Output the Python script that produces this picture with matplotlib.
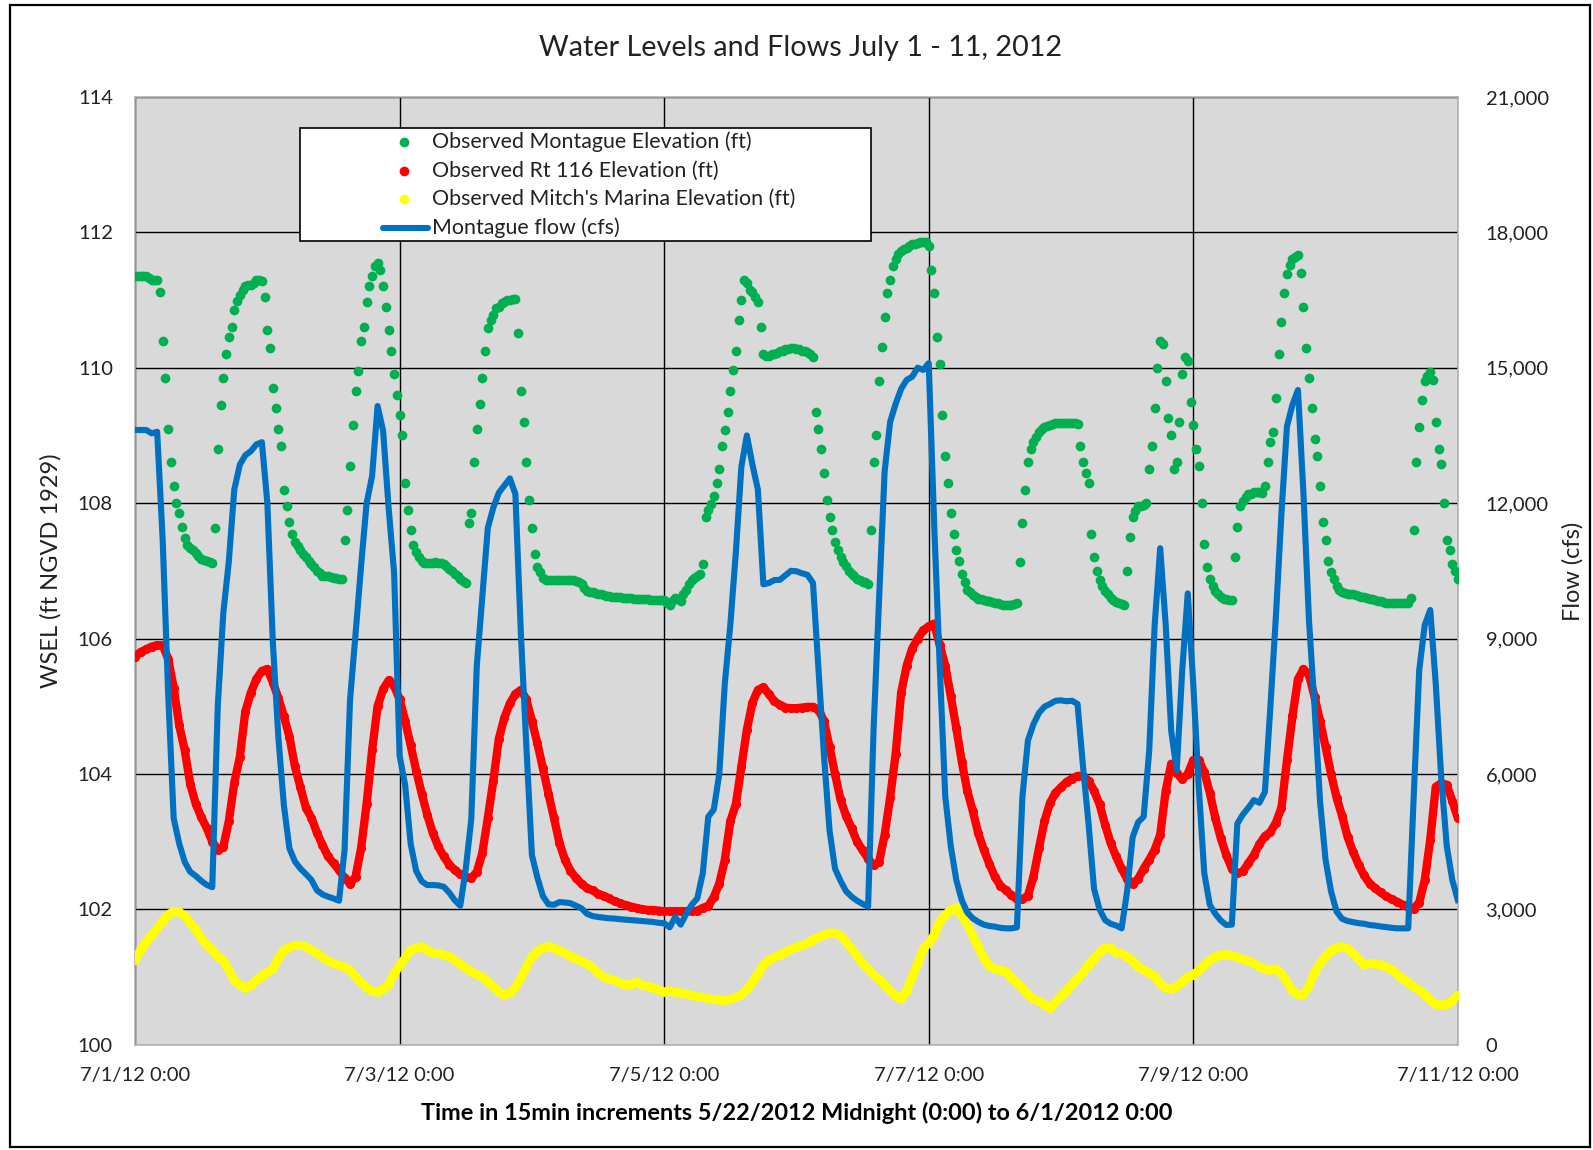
import matplotlib
matplotlib.use("Agg")
import matplotlib.pyplot as plt
from matplotlib.ticker import FuncFormatter, FixedLocator
from matplotlib.patches import Rectangle
from matplotlib.lines import Line2D
import numpy as np

plt.rcParams['font.family'] = ['Lato', 'DejaVu Sans']

# ---------------- data (readings from 7/1/12 0:00 .. 7/11/12 0:00) ----------------
hours = np.arange(241)          # on-the-hour readings
half_hours = np.arange(240) + 0.5  # half-past readings (Montague only)

# Montague elevation on the hour
montague_elev = [
    111.35, 111.35, 111.35, 111.3, 111.3, 110.4, 109.1, 108.25, 107.85, 107.48, 107.33, 107.26,
    107.18, 107.15, 107.11, 108.8, 109.85, 110.45, 110.85, 111.08, 111.2, 111.22, 111.3, 111.28,
    110.55, 109.7, 109.1, 108.2, 107.72, 107.43, 107.3, 107.2, 107.1, 107.0, 106.93, 106.92,
    106.9, 106.88, 107.45, 108.55, 109.65, 110.4, 110.97, 111.35, 111.55, 111.2, 110.55, 109.9,
    109.3, 108.3, 107.6, 107.28, 107.15, 107.12, 107.12, 107.12, 107.1, 107.03, 106.96, 106.88,
    106.82, 107.85, 109.1, 109.85, 110.58, 110.78, 110.9, 110.97, 111.0, 111.02, 109.65, 108.6,
    107.63, 107.05, 106.9, 106.86, 106.87, 106.87, 106.87, 106.86, 106.85, 106.8, 106.7, 106.68,
    106.66, 106.64, 106.63, 106.62, 106.61, 106.6, 106.6, 106.59, 106.58, 106.58, 106.57, 106.57,
    106.57, 106.49, 106.6, 106.55, 106.72, 106.86, 106.93, 107.1, 107.9, 108.1, 108.5, 109.08,
    109.65, 110.25, 111.0, 111.25, 111.12, 110.97, 110.2, 110.18, 110.2, 110.24, 110.27, 110.29,
    110.28, 110.25, 110.23, 110.16, 109.1, 108.45, 107.8, 107.43, 107.2, 107.07, 106.95, 106.88,
    106.84, 106.81, 108.6, 109.8, 110.75, 111.3, 111.6, 111.72, 111.77, 111.82, 111.84, 111.86,
    111.8, 111.1, 110.05, 108.7, 107.85, 107.3, 106.95, 106.72, 106.64, 106.59, 106.57, 106.55,
    106.53, 106.51, 106.5, 106.5, 106.52, 107.7, 108.6, 108.9, 109.05, 109.12, 109.16, 109.18,
    109.19, 109.19, 109.18, 109.17, 108.6, 108.3, 107.2, 106.87, 106.7, 106.6, 106.54, 106.51,
    107.0, 107.8, 107.95, 107.97, 108.5, 109.4, 110.4, 109.8, 109.0, 108.6, 109.9, 110.1,
    109.15, 108.55, 107.4, 106.88, 106.7, 106.61, 106.58, 106.57, 107.65, 108.03, 108.13, 108.16,
    108.16, 108.25, 108.9, 109.55, 110.68, 111.38, 111.6, 111.66, 110.9, 109.85, 108.95, 108.25,
    107.45, 106.98, 106.77, 106.68, 106.66, 106.65, 106.63, 106.61, 106.59, 106.57, 106.55, 106.53,
    106.52, 106.52, 106.52, 106.53, 107.6, 109.13, 109.8, 109.94, 109.2, 108.58, 107.45, 107.1,
    106.88,
]

# Montague elevation at half past each hour
montague_elev_half = [
    111.35, 111.35, 111.33, 111.3, 111.12, 109.85, 108.61, 108.0, 107.65, 107.38, 107.3, 107.22,
    107.16, 107.13, 107.63, 109.45, 110.2, 110.6, 110.98, 111.15, 111.22, 111.25, 111.3, 111.05,
    110.29, 109.4, 108.85, 107.95, 107.55, 107.37, 107.25, 107.15, 107.06, 106.97, 106.92, 106.91,
    106.89, 106.88, 107.9, 109.15, 109.95, 110.6, 111.2, 111.5, 111.45, 110.9, 110.25, 109.6,
    109.0, 107.9, 107.38, 107.2, 107.11, 107.12, 107.13, 107.12, 107.07, 107.0, 106.92, 106.85,
    107.7, 108.6, 109.47, 110.24, 110.7, 110.88, 110.95, 111.0, 111.02, 110.51, 109.2, 108.05,
    107.25, 106.98, 106.87, 106.86, 106.87, 106.87, 106.86, 106.86, 106.84, 106.75, 106.69, 106.67,
    106.65, 106.63, 106.62, 106.61, 106.6, 106.6, 106.59, 106.59, 106.58, 106.57, 106.57, 106.57,
    106.52, 106.55, 106.58, 106.65, 106.8, 106.9, 106.96, 107.8, 107.99, 108.29, 108.85, 109.35,
    109.97, 110.7, 111.3, 111.15, 111.05, 110.6, 110.18, 110.2, 110.22, 110.25, 110.28, 110.29,
    110.27, 110.24, 110.2, 109.35, 108.8, 108.05, 107.6, 107.3, 107.13, 107.0, 106.92, 106.86,
    106.83, 107.6, 109.0, 110.3, 111.1, 111.5, 111.68, 111.75, 111.8, 111.83, 111.85, 111.86,
    111.45, 110.45, 109.3, 108.3, 107.55, 107.15, 106.83, 106.68, 106.61, 106.58, 106.56, 106.54,
    106.52, 106.5, 106.5, 106.51, 107.13, 108.2, 108.8, 108.98, 109.1, 109.14, 109.17, 109.19,
    109.19, 109.19, 109.18, 108.85, 108.45, 107.55, 107.0, 106.78, 106.65, 106.57, 106.52, 106.5,
    107.5, 107.88, 107.96, 108.0, 108.85, 110.0, 110.35, 109.25, 108.5, 109.2, 110.16, 109.5,
    108.8, 108.0, 107.05, 106.78, 106.66, 106.59, 106.57, 107.2, 107.95, 108.09, 108.14, 108.17,
    108.15, 108.6, 109.05, 110.2, 111.1, 111.52, 111.64, 111.4, 110.29, 109.4, 108.7, 107.72,
    107.14, 106.88, 106.72, 106.67, 106.66, 106.64, 106.62, 106.6, 106.58, 106.56, 106.54, 106.53,
    106.52, 106.52, 106.52, 106.6, 108.6, 109.52, 109.88, 109.82, 108.8, 108.0, 107.3, 107.0,
]

rt116_elev = [
    105.73, 105.8, 105.84, 105.88, 105.9, 105.9, 105.7, 105.27, 104.72, 104.35, 103.85, 103.56,
    103.36, 103.2, 103.0, 102.88, 102.92, 103.3, 103.87, 104.25, 104.92, 105.2, 105.4, 105.52,
    105.55, 105.35, 105.12, 104.85, 104.55, 104.11, 103.8, 103.5, 103.35, 103.13, 102.95, 102.78,
    102.68, 102.58, 102.46, 102.38, 102.48, 102.9, 103.55, 104.35, 105.0, 105.25, 105.38, 105.3,
    105.1, 104.78, 104.42, 104.05, 103.71, 103.4, 103.13, 102.93, 102.78, 102.66, 102.58, 102.52,
    102.48, 102.46, 102.55, 102.83, 103.35, 103.9, 104.52, 104.83, 105.04, 105.18, 105.24, 105.1,
    104.78, 104.45, 104.08, 103.71, 103.35, 102.98, 102.73, 102.57, 102.46, 102.38, 102.31, 102.28,
    102.23, 102.2, 102.16, 102.12, 102.09, 102.06, 102.04, 102.02, 102.0, 101.99, 101.99, 101.98,
    101.97, 101.97, 101.97, 101.97, 101.97, 101.97, 101.98, 102.02, 102.05, 102.18, 102.38, 102.73,
    103.3, 103.55, 104.1, 104.65, 105.05, 105.24, 105.28, 105.18, 105.07, 105.02, 104.98, 104.97,
    104.97, 104.98, 104.99, 104.99, 104.95, 104.78, 104.4, 104.0, 103.62, 103.38, 103.2, 103.0,
    102.87, 102.75, 102.65, 102.7, 103.1, 103.65, 104.3, 105.2, 105.6, 105.85, 106.0, 106.12,
    106.18, 106.22, 105.9, 105.6, 105.15, 104.68, 104.18, 103.75, 103.45, 103.12, 102.88, 102.67,
    102.48, 102.35, 102.28, 102.21, 102.15, 102.15, 102.2, 102.48, 102.9, 103.3, 103.57, 103.72,
    103.8, 103.88, 103.93, 103.97, 103.97, 103.9, 103.75, 103.55, 103.25, 102.98, 102.78, 102.6,
    102.45, 102.38, 102.45, 102.6, 102.73, 102.88, 103.1, 103.75, 104.15, 104.01, 103.92, 104.0,
    104.2, 104.2, 104.03, 103.72, 103.35, 103.05, 102.8, 102.6, 102.53, 102.56, 102.68, 102.8,
    102.96, 103.08, 103.14, 103.28, 103.5, 104.2, 104.85, 105.4, 105.55, 105.46, 105.14, 104.78,
    104.4, 104.0, 103.65, 103.38, 103.07, 102.85, 102.66, 102.5, 102.38, 102.31, 102.25, 102.19,
    102.15, 102.11, 102.07, 102.04, 102.01, 102.1, 102.43, 103.03, 103.81, 103.86, 103.84, 103.6,
    103.35,
]

mitch_elev = [
    101.25, 101.4, 101.52, 101.62, 101.72, 101.83, 101.92, 101.97, 101.96, 101.9, 101.8, 101.7,
    101.58, 101.47, 101.4, 101.3, 101.25, 101.1, 100.95, 100.88, 100.84, 100.88, 100.95, 101.02,
    101.07, 101.12, 101.28, 101.4, 101.44, 101.47, 101.47, 101.45, 101.4, 101.35, 101.29, 101.24,
    101.2, 101.17, 101.15, 101.1, 101.0, 100.92, 100.84, 100.79, 100.78, 100.82, 100.9, 101.05,
    101.17, 101.28, 101.4, 101.43, 101.45, 101.4, 101.35, 101.35, 101.33, 101.3, 101.25, 101.19,
    101.13, 101.08, 101.04, 101.0, 100.93, 100.86, 100.78, 100.74, 100.76, 100.85, 100.98, 101.15,
    101.3, 101.38, 101.43, 101.45, 101.43, 101.39, 101.35, 101.31, 101.27, 101.23, 101.19, 101.14,
    101.06, 101.0, 100.97, 100.95, 100.91, 100.88, 100.9, 100.92, 100.88, 100.86, 100.84, 100.81,
    100.78, 100.8, 100.78, 100.77, 100.75, 100.73, 100.71, 100.7, 100.68, 100.67, 100.66, 100.66,
    100.67, 100.7, 100.74, 100.82, 100.92, 101.05, 101.18, 101.25, 101.29, 101.33, 101.37, 101.41,
    101.44, 101.47, 101.5, 101.55, 101.59, 101.62, 101.65, 101.65, 101.61, 101.52, 101.42, 101.31,
    101.2, 101.12, 101.03, 100.97, 100.88, 100.8, 100.72, 100.68, 100.8, 101.0, 101.2, 101.42,
    101.5, 101.62, 101.82, 101.92, 101.99, 102.03, 101.9, 101.78, 101.6, 101.45, 101.28, 101.16,
    101.12, 101.1, 101.08, 100.99, 100.91, 100.84, 100.74, 100.68, 100.64, 100.59, 100.54, 100.63,
    100.72, 100.8, 100.89, 100.98, 101.07, 101.18, 101.27, 101.37, 101.43, 101.43, 101.36, 101.35,
    101.3, 101.24, 101.15, 101.1, 101.06, 101.01, 100.9, 100.84, 100.82, 100.86, 100.93, 101.0,
    101.03, 101.1, 101.18, 101.25, 101.3, 101.33, 101.33, 101.32, 101.29, 101.26, 101.24, 101.2,
    101.15, 101.12, 101.1, 101.12, 101.05, 100.93, 100.8, 100.73, 100.75, 100.86, 101.07, 101.2,
    101.31, 101.39, 101.43, 101.45, 101.42, 101.35, 101.26, 101.18, 101.2, 101.19, 101.18, 101.15,
    101.11, 101.04, 100.97, 100.92, 100.85, 100.81, 100.74, 100.66, 100.6, 100.59, 100.6, 100.65,
    100.73,
]

montague_flow = [
    13620, 13620, 13620, 13545, 13580, 11200, 7785, 5015, 4460, 4050, 3830, 3740,
    3630, 3540, 3490, 7500, 9557, 10700, 12300, 12850, 13060, 13150, 13300, 13350,
    12000, 8900, 6800, 5300, 4350, 4060, 3900, 3780, 3650, 3420, 3330, 3280,
    3240, 3190, 4300, 7640, 9100, 10600, 11990, 12600, 14150, 13600, 11900, 10450,
    6400, 5750, 4450, 3850, 3620, 3538, 3538, 3530, 3500, 3370, 3200, 3080,
    3900, 5000, 8400, 9926, 11450, 11900, 12230, 12390, 12548, 12200, 9100, 6600,
    4200, 3700, 3290, 3110, 3100, 3160, 3150, 3135, 3080, 3020, 2900, 2850,
    2830, 2815, 2800, 2795, 2780, 2770, 2760, 2750, 2740, 2730, 2720, 2700,
    2690, 2600, 2830, 2660, 2900, 3100, 3240, 3800, 5050, 5210, 6000, 8000,
    9300, 10900, 12800, 13500, 12860, 12300, 10200, 10230, 10295, 10300, 10400, 10500,
    10490, 10445, 10410, 10230, 8300, 6400, 4750, 3900, 3630, 3400, 3280, 3190,
    3120, 3058, 7000, 9900, 12700, 13800, 14200, 14530, 14730, 14800, 15000, 14950,
    15100, 11500, 8376, 5500, 4400, 3650, 3200, 2930, 2800, 2720, 2660, 2630,
    2615, 2590, 2578, 2578, 2600, 5500, 6740, 7100, 7350, 7490, 7550, 7620,
    7630, 7610, 7620, 7550, 6160, 4900, 3450, 3000, 2760, 2680, 2640, 2578,
    3400, 4600, 4930, 5052, 6500, 9300, 11000, 9300, 6950, 6080, 8300, 10000,
    8000, 5700, 3800, 3100, 2900, 2750, 2652, 2660, 4900, 5100, 5250, 5420,
    5360, 5600, 7500, 9500, 11772, 13700, 14180, 14505, 12200, 9400, 7500, 5400,
    4100, 3400, 2950, 2790, 2740, 2715, 2692, 2680, 2652, 2640, 2620, 2605,
    2590, 2578, 2578, 2578, 5500, 8300, 9300, 9631, 8000, 5900, 4400, 3650,
    3206,
]

x_tick_days = [0, 2, 4, 6, 8, 10]
x_tick_labels = ["7/1/12 0:00", "7/3/12 0:00", "7/5/12 0:00",
                 "7/7/12 0:00", "7/9/12 0:00", "7/11/12 0:00"]
wsel_ticks = [100, 102, 104, 106, 108, 110, 112, 114]
flow_ticks = [0, 3000, 6000, 9000, 12000, 15000, 18000, 21000]

series_labels = ["Observed Montague Elevation (ft)",
                 "Observed Rt 116 Elevation (ft)",
                 "Observed Mitch's Marina Elevation (ft)",
                 "Montague flow (cfs)"]

GREEN = '#00b050'
RED = '#ff0000'
YELLOW = '#ffff00'
BLUE = '#0070c0'

W, H = 1593, 1150
fig = plt.figure(figsize=(W / 100, H / 100), dpi=100)
fig.patch.set_facecolor('white')

def fx(px):
    return px / W

def fy(py):
    return 1 - py / H

L, R, T, B = 135.1, 1457.8, 96.9, 1044.7
ax = fig.add_axes([fx(L), fy(B), fx(R) - fx(L), fy(T) - fy(B)])
ax.set_facecolor('#d9d9d9')
ax.set_xlim(0, 10)
ax.set_ylim(100, 114)
ax.xaxis.set_major_locator(FixedLocator(x_tick_days))
ax.set_xticklabels(x_tick_labels)
ax.yaxis.set_major_locator(FixedLocator(wsel_ticks))
ax.grid(True, color='black', lw=1.0, zorder=0)
ax.set_axisbelow(True)
for s in ax.spines.values():
    s.set_color('#b3b3b3')
    s.set_linewidth(1.2)
ax.tick_params(axis='both', length=0, labelsize=14.5, colors='#222222')
ax.tick_params(axis='x', pad=16)
ax.tick_params(axis='y', pad=16)

days = hours / 24.0
green_days = np.concatenate([hours, half_hours]) / 24.0
green_vals = np.concatenate([montague_elev, montague_elev_half])

ax.plot(days, mitch_elev, color=YELLOW, lw=6.3, marker='o', ms=6.5, mec='none',
        solid_capstyle='round', zorder=3)
ax.plot(days, rt116_elev, color=RED, lw=6.0, marker='o', ms=6.6, mec='none',
        solid_capstyle='round', zorder=3)
ax.plot(green_days, green_vals, linestyle='none', color=GREEN, marker='o', ms=7.0,
        mec='none', zorder=3)

ax2 = ax.twinx()
ax2.set_ylim(0, 21000)
ax2.yaxis.set_major_locator(FixedLocator(flow_ticks))
ax2.yaxis.set_major_formatter(FuncFormatter(lambda v, p: f"{int(v):,}"))
ax2.tick_params(axis='y', length=0, labelsize=14.5, colors='#222222', pad=20)
for s in ax2.spines.values():
    s.set_visible(False)
ax2.plot(days, montague_flow, color=BLUE, lw=4.4, solid_joinstyle='round', zorder=4)

# titles / labels
fig.text(fx(801), fy(48), "Water Levels and Flows July 1 - 11, 2012",
         ha='center', va='center', fontsize=20.7, color='#222222')
fig.text(fx(797), fy(1113),
         "Time in 15min increments 5/22/2012 Midnight (0:00) to 6/1/2012 0:00",
         ha='center', va='center', fontsize=16.9, fontweight='bold', color='black')
fig.text(fx(51), fy(571), "WSEL (ft NGVD 1929)", rotation=90,
         ha='center', va='center', fontsize=17, color='#222222')
fig.text(fx(1573), fy(571), "Flow (cfs)", rotation=90,
         ha='center', va='center', fontsize=17, color='#222222')

# legend box (drawn manually to match layout)
lx0, ly0, lx1, ly1 = 300, 128, 871, 241
fig.patches.append(Rectangle((fx(lx0), fy(ly1)), fx(lx1) - fx(lx0), fy(ly0) - fy(ly1),
                             transform=fig.transFigure, facecolor='white',
                             edgecolor='black', lw=1.2, zorder=10))
rows = [142.2, 170.7, 199.1, 227.5]
colors = [GREEN, RED, YELLOW]
for i in range(3):
    fig.lines.append(Line2D([fx(404)], [fy(rows[i])], transform=fig.transFigure,
                            marker='o', ms=7, color=colors[i], mec='none',
                            linestyle='none', zorder=11))
fig.lines.append(Line2D([fx(383), fx(428)], [fy(rows[3]), fy(rows[3])],
                        transform=fig.transFigure, color=BLUE, lw=4.4,
                        solid_capstyle='round', zorder=11))
for i in range(4):
    fig.text(fx(432), fy(rows[i]), series_labels[i], ha='left', va='center',
             fontsize=15.4, color='#222222', zorder=12)

# outer chart frame
fig.patches.append(Rectangle((fx(10), fy(1147)), fx(1590) - fx(10), fy(5) - fy(1147),
                             transform=fig.transFigure, facecolor='none',
                             edgecolor='black', lw=1.6, zorder=20))

fig.savefig('out.png', dpi=100)
